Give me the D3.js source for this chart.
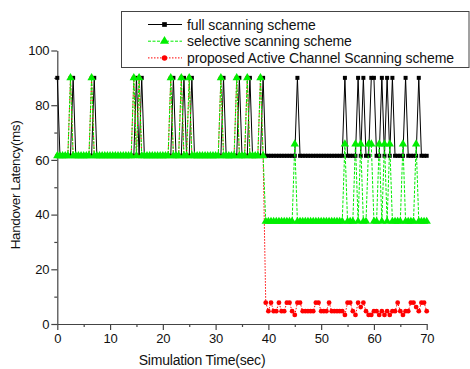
<!DOCTYPE html>
<html>
<head>
<meta charset="utf-8">
<script src="https://cdn.jsdelivr.net/npm/d3@7"></script>
<style>
  body { margin: 0; background: #fff; }
  svg { display: block; font-family: "Liberation Sans", Arial, sans-serif; }
</style>
</head>
<body>
<svg id="chart" width="470" height="369"></svg>
<script>
// sample times: 0 .. 70 sec, every 0.5 sec
const timeStep = 0.5;

const fullScan = [
  90, 61.5, 61.5, 61.5, 61.5, 61.5, 90, 61.5, 61.5, 61.5,
  61.5, 61.5, 61.5, 61.5, 90, 61.5, 61.5, 61.5, 61.5, 61.5,
  61.5, 61.5, 61.5, 61.5, 61.5, 61.5, 61.5, 61.5, 61.5, 61.5,
  90, 61.5, 90, 61.5, 61.5, 61.5, 61.5, 61.5, 61.5, 61.5,
  61.5, 61.5, 61.5, 61.5, 90, 61.5, 61.5, 61.5, 90, 61.5,
  61.5, 90, 61.5, 61.5, 61.5, 61.5, 61.5, 61.5, 61.5, 61.5,
  61.5, 61.5, 61.5, 90, 61.5, 61.5, 61.5, 61.5, 61.5, 90,
  61.5, 61.5, 61.5, 90, 61.5, 61.5, 61.5, 61.5, 90, 61.5,
  61.5, 61.5, 61.5, 61.5, 61.5, 61.5, 61.5, 61.5, 61.5, 61.5,
  61.5, 90, 61.5, 61.5, 61.5, 61.5, 61.5, 61.5, 61.5, 61.5,
  61.5, 61.5, 61.5, 61.5, 61.5, 61.5, 61.5, 61.5, 61.5, 90,
  61.5, 61.5, 61.5, 61.5, 90, 61.5, 90, 61.5, 61.5, 90,
  90, 61.5, 61.5, 90, 61.5, 90, 61.5, 90, 61.5, 61.5,
  61.5, 61.5, 90, 61.5, 61.5, 61.5, 61.5, 90, 61.5, 61.5,
  61.5
];

const selectiveScan = [
  61.5, 61.5, 61.5, 61.5, 61.5, 90, 61.5, 61.5, 61.5, 61.5,
  61.5, 61.5, 61.5, 90, 61.5, 61.5, 61.5, 61.5, 61.5, 61.5,
  61.5, 61.5, 61.5, 61.5, 61.5, 61.5, 61.5, 61.5, 61.5, 90,
  61.5, 90, 61.5, 61.5, 61.5, 61.5, 61.5, 61.5, 61.5, 61.5,
  61.5, 61.5, 61.5, 90, 61.5, 61.5, 61.5, 90, 61.5, 61.5,
  90, 61.5, 61.5, 61.5, 61.5, 61.5, 61.5, 61.5, 61.5, 61.5,
  61.5, 61.5, 90, 61.5, 61.5, 61.5, 61.5, 61.5, 90, 61.5,
  61.5, 61.5, 90, 61.5, 61.5, 61.5, 61.5, 90, 61.5, 37.5,
  37.5, 37.5, 37.5, 37.5, 37.5, 37.5, 37.5, 37.5, 37.5, 37.5,
  65.8, 37.5, 37.5, 37.5, 37.5, 37.5, 37.5, 37.5, 37.5, 37.5,
  37.5, 37.5, 37.5, 37.5, 37.5, 37.5, 37.5, 37.5, 37.5, 65.8,
  37.5, 37.5, 37.5, 65.8, 37.5, 65.8, 37.5, 37.5, 65.8, 65.8,
  37.5, 37.5, 65.8, 37.5, 65.8, 37.5, 65.8, 37.5, 37.5, 37.5,
  37.5, 65.8, 37.5, 37.5, 37.5, 37.5, 65.8, 37.5, 37.5, 37.5,
  37.5
];

const activeScan = [
  61.5, 61.5, 61.5, 61.5, 61.5, 90, 61.5, 61.5, 61.5, 61.5,
  61.5, 61.5, 61.5, 90, 61.5, 61.5, 61.5, 61.5, 61.5, 61.5,
  61.5, 61.5, 61.5, 61.5, 61.5, 61.5, 61.5, 61.5, 61.5, 90,
  61.5, 90, 61.5, 61.5, 61.5, 61.5, 61.5, 61.5, 61.5, 61.5,
  61.5, 61.5, 61.5, 90, 61.5, 61.5, 61.5, 90, 61.5, 61.5,
  90, 61.5, 61.5, 61.5, 61.5, 61.5, 61.5, 61.5, 61.5, 61.5,
  61.5, 61.5, 90, 61.5, 61.5, 61.5, 61.5, 61.5, 90, 61.5,
  61.5, 61.5, 90, 61.5, 61.5, 61.5, 61.5, 90, 61.5, 7.8,
  4.7, 7.8, 4.7, 4.7, 7.8, 4.7, 4.7, 7.8, 7.8, 4.7,
  3.3, 7.8, 7.8, 4.7, 4.7, 4.7, 4.7, 4.7, 7.8, 7.8,
  4.7, 4.7, 4.7, 7.8, 4.7, 4.7, 4.7, 4.7, 4.7, 3.3,
  7.8, 7.8, 4.7, 3.3, 7.8, 6.2, 7.8, 4.7, 3.3, 3.3,
  4.7, 4.7, 3.3, 4.7, 3.3, 4.7, 3.3, 4.7, 4.7, 7.8,
  4.7, 3.3, 4.7, 4.7, 7.8, 7.8, 6.2, 4.7, 7.8, 7.8,
  4.7
];

const seriesNames = ['full scanning scheme', 'selective scanning scheme', 'proposed Active Channel Scanning scheme'];
const yTicks = [0, 20, 40, 60, 80, 100];
const yMinor = [10, 30, 50, 70, 90];
const xTicks = [0, 10, 20, 30, 40, 50, 60, 70];
const xMinor = [5, 15, 25, 35, 45, 55, 65];

const svg = d3.select('#chart');

const x = d3.scaleLinear().domain([0, 70]).range([57.3, 426.7]);
const y = d3.scaleLinear().domain([0, 100]).range([324, 50.5]);

const toPoints = (arr) => arr.map((v, i) => ({ t: i * timeStep, v: v }));

// axes
svg.append('g').attr('transform', `translate(${x(0)},0)`)
  .call(d3.axisLeft(y).tickValues(yTicks).tickSize(6).tickSizeOuter(0).tickPadding(2));
svg.append('g').attr('transform', `translate(${x(0)},0)`)
  .call(d3.axisLeft(y).tickValues(yMinor).tickSize(3).tickFormat('')).select('.domain').remove();

svg.append('g').attr('transform', `translate(0,${y(0)})`)
  .call(d3.axisBottom(x).tickValues(xTicks).tickSize(6).tickSizeOuter(0).tickPadding(4));
svg.append('g').attr('transform', `translate(0,${y(0)})`)
  .call(d3.axisBottom(x).tickValues(xMinor).tickSize(3).tickFormat('')).select('.domain').remove();

svg.selectAll('.domain, .tick line').attr('stroke', '#444').attr('stroke-width', 1.2);
svg.selectAll('.tick text').attr('font-family', '"Liberation Sans", Arial, sans-serif')
  .attr('font-size', 13).attr('fill', '#111').attr('letter-spacing', -0.2);

// series
const line = d3.line().x((d) => x(d.t)).y((d) => y(d.v));

const styles = [
  { data: fullScan, color: '#000', dash: null, width: 1, symbol: d3.symbolSquare, size: 16 },
  { data: activeScan, color: '#ff0000', dash: '1.5,1.5', width: 1, symbol: d3.symbolCircle, size: 18 },
  { data: selectiveScan, color: '#00ee00', dash: '3,1.5', width: 1, symbol: d3.symbolTriangle, size: 30 }
];

styles.forEach((s) => {
  const pts = toPoints(s.data);
  svg.append('path')
    .datum(pts)
    .attr('fill', 'none')
    .attr('stroke', s.color)
    .attr('stroke-width', s.width)
    .attr('stroke-dasharray', s.dash)
    .attr('d', line);
  svg.append('g').selectAll('path')
    .data(pts)
    .enter()
    .append('path')
    .attr('transform', (d) => `translate(${x(d.t)},${y(d.v)})`)
    .attr('d', d3.symbol().type(s.symbol).size(s.size))
    .attr('fill', s.color);
});

// legend
const legend = svg.append('g');
legend.append('rect')
  .attr('x', 121.5).attr('y', 11.5).attr('width', 347.5).attr('height', 56)
  .attr('fill', '#fff').attr('stroke', '#444').attr('stroke-width', 1);

const legendStyles = [styles[0], styles[2], styles[1]];
seriesNames.forEach((name, i) => {
  const s = legendStyles[i];
  const ly = 24.5 + i * 16.7;
  legend.append('line')
    .attr('x1', 148).attr('x2', 182).attr('y1', ly).attr('y2', ly)
    .attr('stroke', s.color).attr('stroke-width', 1).attr('stroke-dasharray', s.dash);
  legend.append('path')
    .attr('transform', `translate(164.5,${ly})`)
    .attr('d', d3.symbol().type(s.symbol).size(s.size + 6))
    .attr('fill', s.color);
  legend.append('text')
    .attr('x', 187).attr('y', ly + 5)
    .attr('font-size', 14).attr('letter-spacing', -0.1).attr('fill', '#111')
    .text(name);
});

// axis titles
svg.append('text')
  .attr('x', 202).attr('y', 365)
  .attr('text-anchor', 'middle').attr('font-size', 14).attr('letter-spacing', -0.2).attr('fill', '#111')
  .text('Simulation Time(sec)');

svg.append('text')
  .attr('transform', 'translate(19.5,185) rotate(-90)')
  .attr('text-anchor', 'middle').attr('font-size', 13.5).attr('letter-spacing', -0.4).attr('fill', '#111')
  .text('Handover Latency(ms)');
</script>
</body>
</html>
